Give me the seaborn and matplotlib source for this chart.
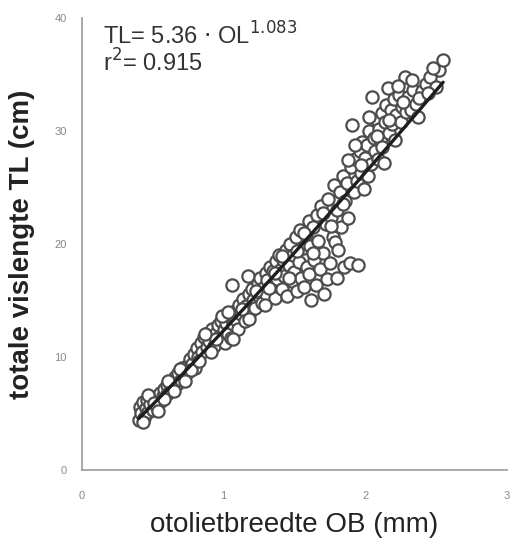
"""
Otolith width vs total fish length scatter with power-law fit
"""

import numpy as np
import pandas as pd
import matplotlib
matplotlib.use('Agg')
import matplotlib.pyplot as plt
import seaborn as sns

# otolith width OB (mm)
ob_mm = [
    0.40, 0.41, 0.42, 0.43, 0.44, 0.45, 0.46, 0.47, 0.48, 0.50, 0.50, 0.52, 0.53, 0.55, 0.56, 0.57, 0.58, 0.60, 0.60, 0.62,
    0.63, 0.64, 0.66, 0.67, 0.68, 0.70, 0.71, 0.72, 0.74, 0.75, 0.76, 0.78, 0.79, 0.80,
    0.81, 0.82, 0.84, 0.85, 0.86, 0.88, 0.89, 0.90, 0.92, 0.93, 0.94, 0.96, 0.97, 0.98, 1.00,
    1.01, 1.02, 1.03, 1.04, 1.05, 1.06, 1.07, 1.08, 1.09, 1.10, 1.11, 1.12, 1.14, 1.15, 1.16, 1.17, 1.18, 1.19, 1.20,
    1.21, 1.22, 1.24, 1.25, 1.26, 1.27, 1.28, 1.30, 1.30, 1.31, 1.33, 1.34, 1.35, 1.36, 1.37, 1.38, 1.39, 1.40,
    1.41, 1.42, 1.43, 1.44, 1.45, 1.46, 1.47, 1.48, 1.49, 1.50, 1.51, 1.52, 1.53, 1.54, 1.55, 1.56, 1.57, 1.58, 1.59, 1.60,
    1.60, 1.61, 1.62, 1.63, 1.64, 1.65, 1.66, 1.67, 1.68, 1.69, 1.70, 1.71, 1.72, 1.73, 1.74, 1.75, 1.76, 1.77, 1.78, 1.79, 1.80, 1.80,
    1.81, 1.82, 1.83, 1.84, 1.85, 1.86, 1.87, 1.88, 1.89, 1.90, 1.91, 1.92, 1.93, 1.94, 1.95, 1.96, 1.97, 1.98, 1.99, 2.00,
    2.01, 2.02, 2.03, 2.04, 2.05, 2.06, 2.07, 2.08, 2.09, 2.10, 2.11, 2.12, 2.13, 2.14, 2.15, 2.16, 2.17, 2.18, 2.19, 2.20,
    2.21, 2.22, 2.24, 2.25, 2.26, 2.28, 2.29, 2.30,
    2.32, 2.34, 2.36, 2.37, 2.40, 2.43, 2.46, 2.50, 2.52, 2.55,
    0.43, 0.47, 0.51, 0.54, 0.58, 0.61, 0.65, 0.69, 0.73, 0.77, 0.83, 0.87, 0.91, 0.95, 0.99,
    1.03, 1.07, 1.13, 1.18, 1.23, 1.29, 1.32, 1.36, 1.41, 1.46, 1.52, 1.57, 1.63, 1.70, 1.76,
    1.84, 1.88, 1.93, 1.97, 2.03, 2.08, 2.12, 2.17, 2.23, 2.27, 2.33, 2.38, 2.44, 2.48,
]

# total length TL (cm)
tl_cm = [
    4.4, 5.6, 5.0, 6.0, 4.6, 5.5, 6.2, 5.1, 5.8, 6.4, 5.3, 6.0, 5.6, 6.8, 6.1, 6.5, 7.2, 6.7, 7.5, 7.0,
    7.8, 7.3, 8.2, 7.6, 8.6, 8.0, 9.0, 8.4, 9.2, 8.7, 9.8, 9.4, 10.3, 9.0,
    10.8, 10.0, 11.2, 10.4, 11.8, 10.9, 12.1, 11.4, 12.5, 11.0, 12.0, 12.8, 11.8, 13.2, 12.4,
    11.2, 13.0, 12.0, 13.6, 11.7, 16.4, 12.9, 14.1, 13.3, 12.5, 14.6, 13.8, 15.1, 13.2, 14.5, 17.2, 15.6, 14.0, 16.0,
    15.0, 14.3, 16.5, 15.4, 17.0, 14.8, 16.1, 17.4, 15.6, 16.8, 18.0, 16.3, 17.6, 15.2, 18.5, 16.9, 19.0, 17.7,
    16.0, 18.6, 17.2, 19.5, 15.4, 18.1, 20.0, 16.7, 19.0, 17.5, 20.6, 15.8, 18.4, 21.2, 17.0, 19.6, 16.2, 20.9, 18.0, 22.0,
    17.3, 19.8, 15.0, 21.5, 18.6, 16.4, 22.6, 20.3, 17.8, 23.4, 19.2, 15.6, 21.8, 16.9, 24.0, 18.3, 22.4, 20.6, 25.2, 20.2, 23.0, 17.0,
    19.5, 24.6, 21.5, 26.0, 18.0, 23.8, 25.4, 22.3, 18.3, 26.8, 30.5, 24.6, 27.5, 25.6, 18.1, 28.2, 26.3, 29.0, 24.9, 27.6,
    28.8, 26.0, 30.0, 27.1, 33.0, 29.4, 28.2, 31.0, 27.5, 30.2, 29.0, 31.6, 27.2, 30.8, 32.3, 33.8, 29.8, 31.9, 30.6, 32.8,
    29.2, 31.4, 33.2, 30.8, 32.1, 34.8, 31.7, 33.0,
    31.9, 33.6, 32.4, 31.2, 33.5, 34.2, 34.8, 33.9, 35.4, 36.3,
    4.2, 6.6, 5.9, 5.2, 6.3, 7.9, 7.0, 8.9, 7.9, 8.8, 9.6, 12.0, 10.4, 11.6, 13.6,
    14.0, 11.6, 14.2, 13.4, 15.8, 14.6, 16.1, 17.4, 18.9, 17.0, 19.4, 21.0, 19.2, 22.7, 21.6,
    23.5, 27.4, 28.8, 27.0, 31.2, 29.6, 28.6, 31.0, 34.0, 32.6, 34.5, 32.9, 33.4, 35.6,
]

x_ticks = [0, 1, 2, 3]
y_ticks = [0, 10, 20, 30, 40]

df = pd.DataFrame({'OB': ob_mm, 'TL': tl_cm})

sns.set_style('white')
plt.rcParams['font.family'] = ['Liberation Sans', 'DejaVu Sans']

fig = plt.figure(figsize=(5.12, 5.47), dpi=100)
ax = fig.add_axes([0.160, 0.141, 0.830, 0.826])

sns.scatterplot(data=df, x='OB', y='TL', ax=ax, s=78, color='white',
                edgecolor='#4d4d4d', linewidth=1.6, zorder=2, legend=False)

# power-law fit in log-log space
b, log_a = np.polyfit(np.log(df['OB']), np.log(df['TL']), 1)
xs = np.linspace(df['OB'].min(), df['OB'].max(), 100)
ax.plot(xs, np.exp(log_a) * xs ** b, color='#1e1e1e', linewidth=2.4, zorder=3)

ax.set_xlim(0, 3)
ax.set_ylim(0, 40)
ax.set_xticks(x_ticks)
ax.set_yticks(y_ticks)
ax.tick_params(axis='both', labelsize=8, colors='#888888', length=3, width=1,
               direction='out')
ax.tick_params(axis='x', pad=12)
ax.tick_params(axis='y', pad=8)
for side in ['top', 'right']:
    ax.spines[side].set_visible(False)
for side in ['left', 'bottom']:
    ax.spines[side].set_color('#999999')
    ax.spines[side].set_linewidth(1.2)

ax.set_xlabel('otolietbreedte OB (mm)', fontsize=20, color='#222222', labelpad=8)
ax.set_ylabel('totale vislengte TL (cm)', fontsize=20, fontweight='bold',
              color='#222222', labelpad=14)

ax.text(0.05, 0.99, r'TL= 5.36 $\cdot$ OL$^{1.083}$', transform=ax.transAxes,
        fontsize=17, color='#333333', va='top', ha='left')
ax.text(0.05, 0.93, r'r$^2$= 0.915', transform=ax.transAxes,
        fontsize=17, color='#333333', va='top', ha='left')

plt.savefig('out.png', dpi=100)
